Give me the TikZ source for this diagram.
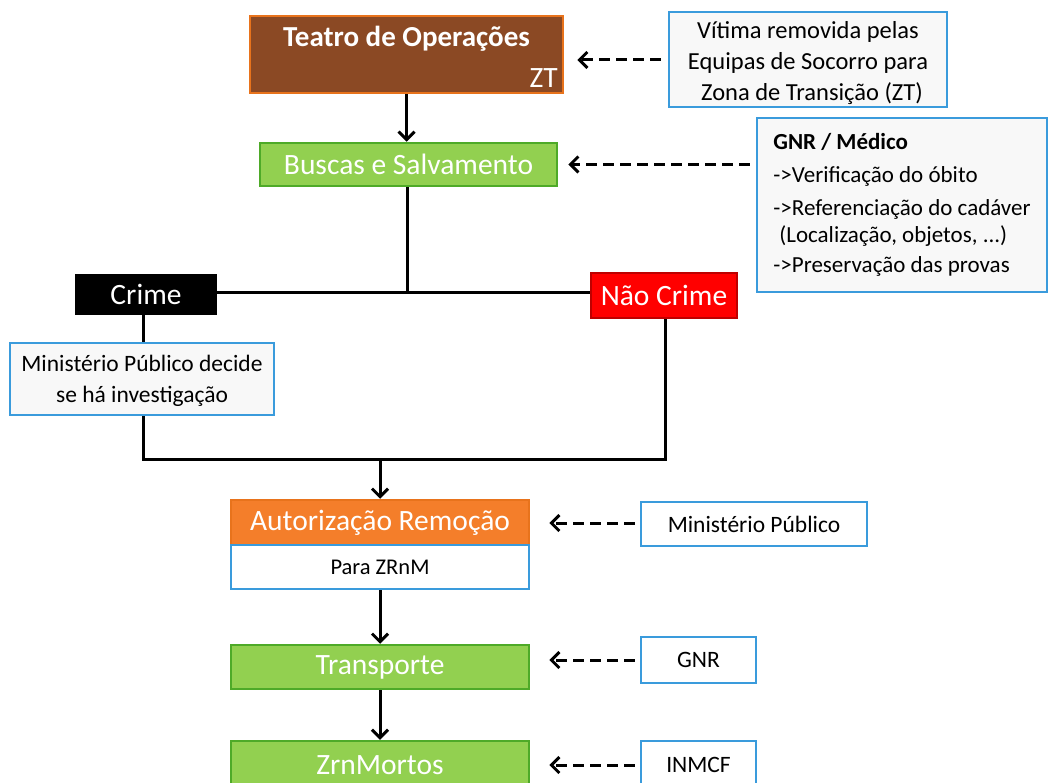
\documentclass[tikz,border=0pt]{standalone}
\usepackage{fontspec}
\setmainfont{Carlito}
\usetikzlibrary{arrows.meta}

\definecolor{brownfill}{RGB}{139,73,36}
\definecolor{orangeline}{RGB}{232,115,28}
\definecolor{orangefill}{RGB}{244,126,42}
\definecolor{greenfill}{RGB}{146,208,80}
\definecolor{greenline}{RGB}{78,170,40}
\definecolor{blueline}{RGB}{58,155,220}
\definecolor{paper}{RGB}{248,248,248}
\definecolor{redline}{RGB}{190,0,0}

% lowers a block of centred lines without changing its size
\newcommand{\lowered}[2]{\raisebox{-#1}[\height][\depth]{\begin{tabular}{@{}c@{}}#2\end{tabular}}}

\tikzset{
  x=1pt, y=-1pt,
  box/.style={draw, line width=2.5pt, inner sep=0pt, align=center},
  mainbox/.style={box, text=white, font=\fontsize{29.5}{34}\selectfont},
  greenbox/.style={mainbox, fill=greenfill, draw=greenline},
  notebox/.style={box, draw=blueline, fill=paper, text=black, font=\fontsize{23.5}{28}\selectfont},
  link/.style={line width=3pt},
  flow/.style={link, -{Straight Barb[length=8pt,width=16pt,line width=3pt]}},
  hint/.style={flow, dash pattern=on 11pt off 6pt},
}

\begin{document}
\begin{tikzpicture}
\useasboundingbox (0,0) rectangle (1051,783);
\clip (0,0) rectangle (1051,783);
\fill[white] (0,0) rectangle (1051,783);

% main column
\node[box, fill=brownfill, draw=orangeline, minimum width=313pt, minimum height=77pt,
  label={[text=white, font=\bfseries\fontsize{29}{34}\selectfont, anchor=north, yshift=-8pt]north:Teatro de Operações},
  label={[text=white, font=\fontsize{29.5}{34}\selectfont, anchor=south east, xshift=-3pt, yshift=3pt]south east:ZT}]
  (teatro) at (406.5,54.5) {};
\node[greenbox, minimum width=297pt, minimum height=43pt] (buscas) at (408.5,164.5) {Buscas e Salvamento};

\node[mainbox, fill=black, draw=black, minimum width=140pt, minimum height=39pt] (crime) at (146,294.5) {Crime};
\node[mainbox, fill=red, draw=redline, minimum width=146pt, minimum height=45pt] (naocrime) at (664,295.5) {Não Crime};

\node[notebox, minimum width=264pt, minimum height=72pt, font=\fontsize{23.5}{31}\selectfont]
  (mpdecide) at (142,379) {\lowered{2pt}{Ministério Público decide\\se há investigação}};

\node[mainbox, fill=orangefill, draw=orangeline, minimum width=298pt, minimum height=45pt] (autoriz) at (380,522.5) {Autorização Remoção};
\node[notebox, fill=white, minimum width=298pt, minimum height=44pt, font=\fontsize{22.5}{26}\selectfont] (para) at (380,567) {Para ZRnM};
\node[greenbox, minimum width=298pt, minimum height=44pt] (transporte) at (380,667) {Transporte};
\node[greenbox, minimum width=298pt, minimum height=48pt] (zrn) at (380,765) {ZrnMortos};

% side notes
\node[notebox, minimum width=278pt, minimum height=95pt, font=\fontsize{24.5}{31}\selectfont]
  (vitima) at (808,59.5) {\lowered{4pt}{Vítima removida pelas\\Equipas de Socorro para\\\hspace*{8pt}Zona de Transição (ZT)}};
\node[notebox, minimum width=290pt, minimum height=174pt, align=left,
  font=\fontsize{23}{27}\selectfont]
  (gnrmed) at (902,205) {\textbf{GNR / Médico}\\[6pt]
    ->Verificação do óbito\\[6pt]
    ->Referenciação do cadáver\\
    \hspace*{6pt}(Localização, objetos, ...)\\[3pt]
    ->Preservação das provas};
\node[notebox, fill=white, minimum width=226pt, minimum height=44pt] (mp) at (754,524) {Ministério Público};
\node[notebox, fill=white, minimum width=115pt, minimum height=46pt] (gnr) at (698.5,660) {GNR};
\node[notebox, fill=white, minimum width=115pt, minimum height=48pt] (inmcf) at (698.5,765) {INMCF};

% junctions
\coordinate (split) at (407,293);
\coordinate (joinL) at (143,459);
\coordinate (joinM) at (380,459);
\coordinate (joinR) at (665,459);

% solid flow
\draw[flow] (teatro.south) -- (teatro.south |- buscas.north);
\draw[link] (buscas.south -| split) -- (split);
\draw[link] (crime.east |- split) -- (split -| naocrime.west);
\draw[link] (crime.south -| joinL) -- (mpdecide.north -| joinL);
\draw[link] (mpdecide.south -| joinL) -- (joinL) -- (joinR) -- (naocrime.south -| joinR);
\draw[flow] (joinM) -- (autoriz.north);
\draw[flow] (para.south) -- (transporte.north);
\draw[flow] (transporte.south) -- (zrn.north);

% dashed hints
\draw[hint, shorten <=7pt, shorten >=13pt] (vitima.west |- 0,60) -- (teatro.east |- 0,60);
\draw[hint, shorten <=6pt, shorten >=10pt] (gnrmed.west |- buscas.east) -- (buscas.east);
\draw[hint, shorten <=5pt, shorten >=19pt] (mp.west |- 0,523) -- (autoriz.east |- 0,523);
\draw[hint, shorten <=5pt, shorten >=19pt] (gnr.west) -- (transporte.east |- gnr.west);
\draw[hint, shorten <=5pt, shorten >=19pt] (inmcf.west) -- (zrn.east |- inmcf.west);
\end{tikzpicture}
\end{document}
